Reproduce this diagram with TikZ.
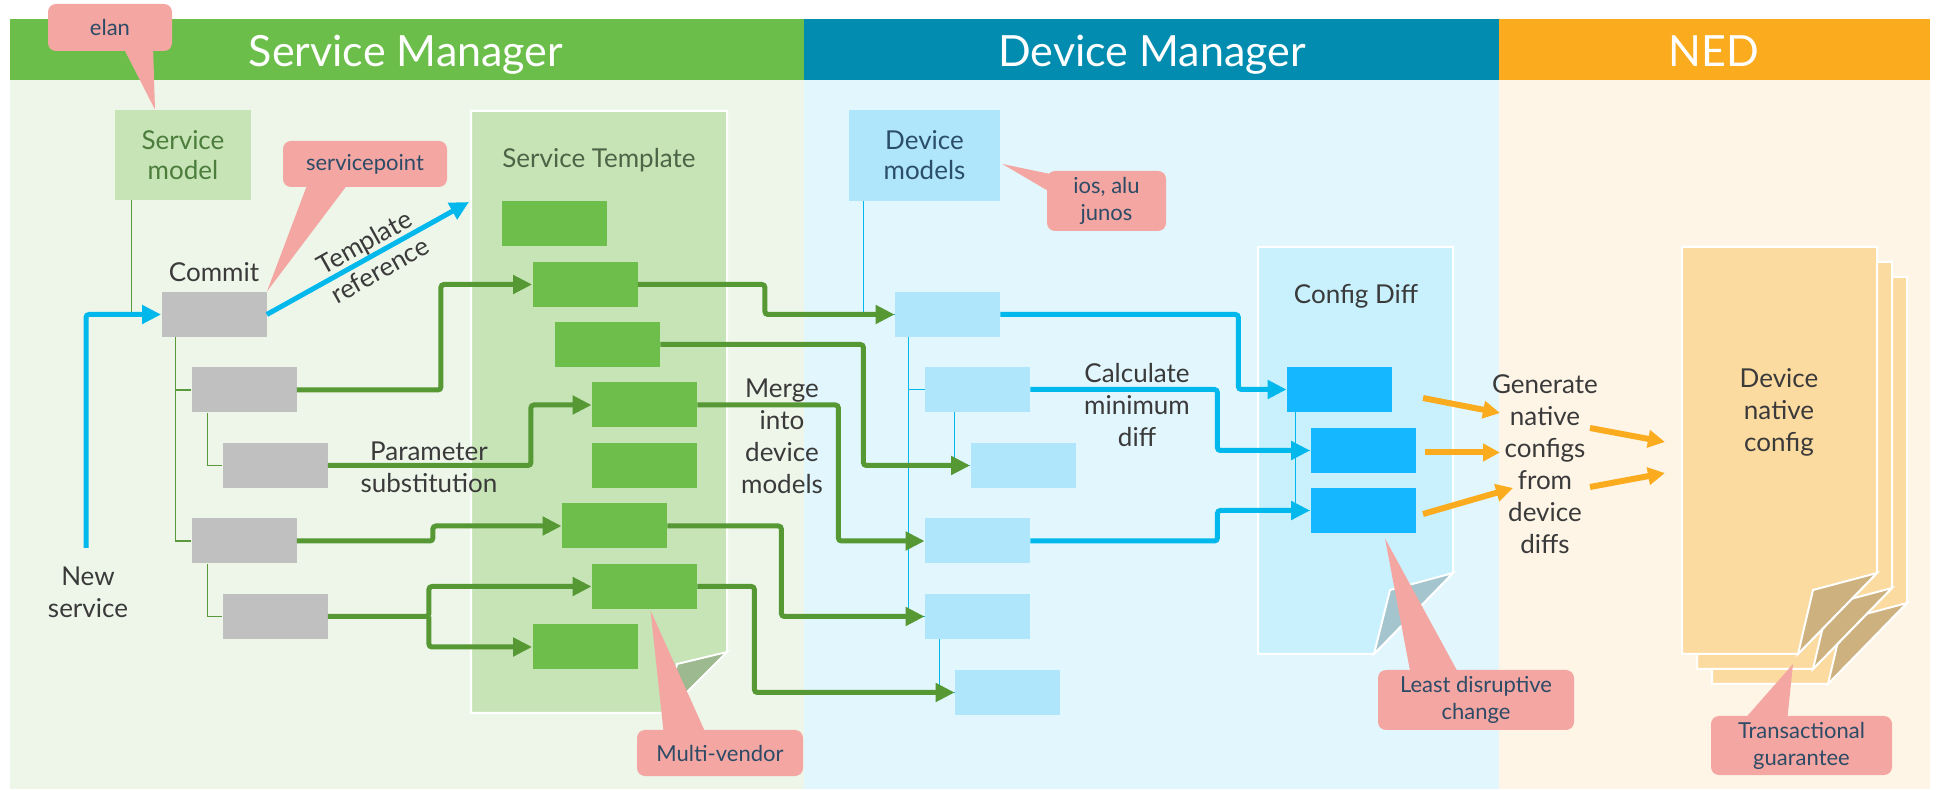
\documentclass[tikz,border=0pt]{standalone}
\usepackage{fontspec}
\setmainfont{Lato}
\usetikzlibrary{arrows.meta,calc,positioning}
\definecolor{smback}{HTML}{EEF6EA}
\definecolor{dmback}{HTML}{E2F6FD}
\definecolor{nedback}{HTML}{FEF5E7}
\definecolor{smgreen}{HTML}{6CBE4A}
\definecolor{dmteal}{HTML}{028DB0}
\definecolor{nedorange}{HTML}{FAAB1E}
\definecolor{tmplgreen}{HTML}{C6E4B6}
\definecolor{tmplfold}{HTML}{9DB98F}
\definecolor{boxgray}{HTML}{C0C0C0}
\definecolor{boxgreen}{HTML}{6DBE4B}
\definecolor{arrgreen}{HTML}{559834}
\definecolor{thingreen}{HTML}{5A9A3D}
\definecolor{devblue}{HTML}{AFE6FB}
\definecolor{diffpanel}{HTML}{C8F1FD}
\definecolor{difffold}{HTML}{A4C5CD}
\definecolor{diffblue}{HTML}{15B8FF}
\definecolor{arrblue}{HTML}{00B8EC}
\definecolor{pagefill}{HTML}{FCDBA1}
\definecolor{pagefold}{HTML}{CDB17F}
\definecolor{notepink}{HTML}{F4A7A2}
\definecolor{notetext}{HTML}{2D4B66}
\definecolor{txtgray}{HTML}{3A3A3A}
\definecolor{smtext}{HTML}{4C7D3C}
\definecolor{tmpltext}{HTML}{4E6446}
\definecolor{devtext}{HTML}{2B4E6A}
\tikzset{
 box/.style={minimum width=52.5pt, minimum height=22.5pt, inner sep=0pt},
 graybox/.style={box, fill=boxgray},
 greenbox/.style={box, fill=boxgreen},
 devbox/.style={box, fill=devblue},
 diffbox/.style={box, fill=diffblue},
 txt/.style={inner sep=0pt, align=center, text=txtgray, font=\fontsize{13}{16}\selectfont},
 note/.style={rounded corners=4pt, fill=notepink, text=notetext, align=center,
   inner sep=0pt, font=\fontsize{11}{13.5}\selectfont},
 hdr/.style={text=white, inner sep=0pt, font=\fontsize{21.5}{26}\selectfont},
 garrow/.style={draw=arrgreen, line width=2.5pt, rounded corners=1.5pt, -{Triangle[length=9.5pt,width=9pt]}},
 barrow/.style={draw=arrblue, line width=2.5pt, rounded corners=1.5pt, -{Triangle[length=9.5pt,width=9pt]}},
 oarrow/.style={draw=nedorange, line width=3pt, -{Triangle[length=8.5pt,width=8.5pt]}},
 gline/.style={draw=thingreen, line width=0.6pt},
 bline/.style={draw=arrblue, line width=0.6pt},
 panel/.style={draw=white, line width=1pt},
}
\begin{document}
\begin{tikzpicture}[x=0.5pt, y=-0.5pt]
    \useasboundingbox (0,0) rectangle (1939,790);

    % columns and headers
    \fill[smback] (10,80) rectangle (804,789);
    \fill[dmback] (804,80) rectangle (1499,789);
    \fill[nedback] (1499,80) rectangle (1930,789);
    \fill[smgreen] (10,19) rectangle (804,80);
    \fill[dmteal] (804,19) rectangle (1499,80);
    \fill[nedorange] (1499,19) rectangle (1930,80);
    \node[hdr, anchor=base] (smhdr) at (406,67) {Service Manager};
    \node[hdr, anchor=base] (dmhdr) at (1152,67) {Device Manager};
    \node[hdr, anchor=base] (nedhdr) at (1714,67) {NED};

    % panels
    \filldraw[tmplgreen, panel] (471,111) -- (727,111) -- (727,652) -- (666,713) -- (471,713) -- cycle;
    \filldraw[tmplfold, panel] (727,652) -- (677,664) -- (666,713) -- cycle;
    \node[txt, text=tmpltext] (tmpltitle) at (599,160) {Service Template};
    \filldraw[diffpanel, panel] (1258,247) -- (1453,247) -- (1453,573) -- (1374,654) -- (1258,654) -- cycle;
    \filldraw[difffold, panel] (1453,573) -- (1390,590) -- (1374,654) -- cycle;
    \node[txt] (difftitle) at (1356,296) {Config Diff};
    \foreach \s in {30,15,0} {
        \filldraw[pagefill, panel, shift={(\s,\s)}] (1682,247) -- (1877,247) -- (1877,573) -- (1798,654) -- (1682,654) -- cycle;
        \filldraw[pagefold, panel, shift={(\s,\s)}] (1877,573) -- (1813,590) -- (1798,654) -- cycle;
    }
    \node[txt] (ndtext) at (1779,412) {Device\\native\\config};

    % models
    \node[box, fill=tmplgreen, minimum width=68pt, minimum height=45pt, align=center,
        text=smtext, font=\fontsize{13}{15}\selectfont] (smodel) at (183,155) {Service\\model};
    \node[box, fill=devblue, minimum width=75.5pt, minimum height=45.5pt, align=center,
        text=devtext, font=\fontsize{13}{15}\selectfont] (dmodels) at (924.5,155.5) {Device\\models};

    % boxes
    \foreach \n/\x/\y in {commit/214/314.5, s1/244/390, s2/275/465.5, s3/244/541, s4/275/616.5}
        \node[graybox] (\n) at (\x,\y) {};
    \foreach \n/\x/\y in {g1/554.5/223.5, g2/585/284.5, g3/607.5/344.5, g4/644.5/405,
        g5/644.5/465.5, g6/614.5/526, g7/644.5/586.5, g8/585/647}
        \node[greenbox] (\n) at (\x,\y) {};
    \foreach \n/\x/\y in {d1/947.5/314.5, d2/977.5/389.5, d3/1023/465.5, d4/977.5/541,
        d5/977.5/616.5, d6/1007.5/692.5}
        \node[devbox] (\n) at (\x,\y) {};
    \foreach \n/\x/\y in {f1/1339.5/389.5, f2/1363/450.5, f3/1363/510.5}
        \node[diffbox] (\n) at (\x,\y) {};

    % labels
    \node[txt, above=4.5pt of commit] (commitlbl) {Commit};
    \node[txt] (newsvc) at (88,592) {New\\service};
    \node[txt] (paramlbl) at (429,467) {Parameter\\substitution};
    \node[txt] (mergelbl) at (782,436) {Merge\\into\\device\\models};
    \node[txt] (calclbl) at (1137,405) {Calculate\\minimum\\diff};
    \node[txt] (gentext) at (1545,464) {Generate\\native\\configs\\from\\device\\diffs};

    % trees
    \coordinate (smroot) at ($(smodel.south west)+(17,0)$);
    \draw[gline] (smroot) -- (smroot |- commit.west);
    \draw[gline] ($(commit.south west)+(14,0)$) |- (s1.west) ($(commit.south west)+(14,0)$) |- (s3.west);
    \draw[gline] ($(s1.south west)+(16,0)$) |- (s2.west);
    \draw[gline] ($(s3.south west)+(16,0)$) |- (s4.west);
    \draw[bline] ($(dmodels.south west)+(15,0)$) |- (d1.west);
    \draw[bline] ($(d1.south west)+(14,0)$) |- (d2.west) ($(d1.south west)+(14,0)$) |- (d5.west);
    \draw[bline] ($(d2.south west)+(30,0)$) |- (d3.west);
    \draw[bline] ($(d5.south west)+(15,0)$) |- (d6.west);
    \draw[bline] ($(f1.south west)+(9,0)$) |- (f2.west) ($(f1.south west)+(9,0)$) |- (f3.west);

    % flows
    \draw[garrow] (s1.east) -- ++(144,0) |- (g2.west);
    \draw[garrow] (s2.east) -- ++(203,0) |- (g4.west);
    \draw[garrow] (s3.east) -- ++(136,0) |- (g6.west);
    \draw[garrow] (s4.east) -- ++(101,0) coordinate (fork) |- (g7.west);
    \draw[garrow] (fork) |- (g8.west);
    \draw[garrow] (g2.east) -- ++(127,0) |- (d1.west);
    \draw[garrow] (g3.east) -- ++(203,0) |- (d3.west);
    \draw[garrow] (g4.east) -- ++(141,0) |- (d4.west);
    \draw[garrow] (g6.east) -- ++(114,0) |- (d5.west);
    \draw[garrow] (g7.east) -- ++(57,0) |- (d6.west);
    \draw[barrow] (d1.east) -- ++(238,0) |- (f1.west);
    \draw[barrow] (d2.east) -- ++(187,0) |- (f2.west);
    \draw[barrow] (d4.east) -- ++(187,0) |- (f3.west);
    \coordinate (nsstart) at (86,548);
    \draw[barrow] (nsstart) |- (commit.west);
    \coordinate (tref) at (469,202);
    \draw[barrow] (commit.east) -- node[txt, sloped, pos=.52] (treflbl) {Template\\reference} (tref);

    % native config generation
    \coordinate (o1a) at (1423,398); \coordinate (o1b) at (1500,413);
    \coordinate (o2a) at (1425,452.5); \coordinate (o2b) at (1500,452.5);
    \coordinate (o3a) at (1423,514); \coordinate (o3b) at (1513,488);
    \coordinate (o4a) at (1590,428); \coordinate (o4b) at (1665,442);
    \coordinate (o5a) at (1590,487); \coordinate (o5b) at (1665,473);
    \foreach \o in {o1,o2,o3,o4,o5}
        \draw[oarrow] (\o a) -- (\o b);

    % notes
    \node[note, minimum width=62pt, minimum height=23.5pt] (celan) at (110,27.5) {elan};
    \fill[notepink] (122,45) -- ($(smodel.north)+(-28,0)$) -- (153,45) -- cycle;
    \node[note, minimum width=82pt, minimum height=23pt] (csp) at (365,164) {servicepoint};
    \fill[notepink] (309,180) -- (commit.north east) -- (351,180) -- cycle;
    \node[note, minimum width=59.5pt, minimum height=30pt] (cios) at (1106.5,201) {ios, alu\\junos};
    \fill[notepink] (1055,175) -- ($(dmodels.east)+(2,8.5)$) -- (1055,195) -- cycle;
    \node[note, minimum width=83pt, minimum height=23pt] (cmulti) at (720,753) {Multi-vendor};
    \fill[notepink] (664,736) -- ($(g7.south)+(6,1)$) -- (707,736) -- cycle;
    \node[note, minimum width=98pt, minimum height=30pt] (cleast) at (1476,700) {Least disruptive\\change};
    \fill[notepink] (1411,676) -- ($(f3.south)+(22,5)$) -- (1460,676) -- cycle;
    \node[note, minimum width=90.5pt, minimum height=29.5pt] (ctrans) at (1801.5,745.5) {Transactional\\guarantee};
    \coordinate (transtip) at (1793,664);
    \fill[notepink] (1742,722) -- (transtip) -- (1787,722) -- cycle;
\end{tikzpicture}
\end{document}
